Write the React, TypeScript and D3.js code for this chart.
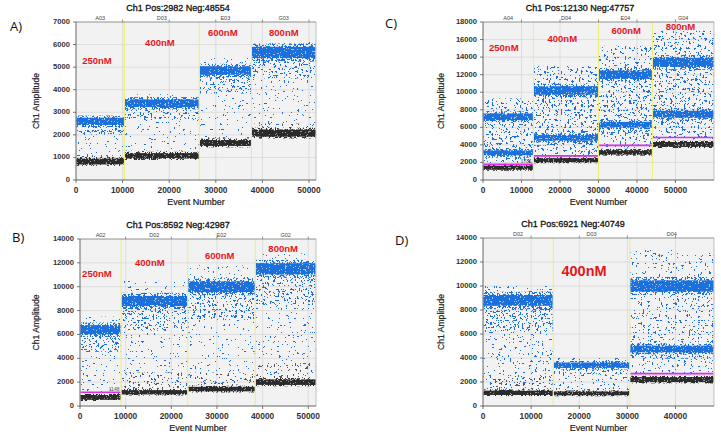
import { useEffect, useRef } from 'react';
import * as d3 from 'd3';

// ---------- Panel A (Ch1 Pos:2982 Neg:48554) ----------
const wellsA = ['A03', 'D03', 'E03', 'G03'];
const boundsA = [0, 10400, 26450, 37650, 51500];
const posA = [[[2600, 160]], [[3400, 170]], [[4850, 190]], [[5650, 250]]];
const negA = [[820, 130], [1070, 120], [1640, 130], [2080, 160]];
const rainA = [[1000, 2850], [1300, 3800], [1900, 5400], [2400, 6150]];
const grayTopA = [1100, 1300, 1900, 2500];
const thresholdA = [null, null, null, null];
const labelsA: [number, number, string][] = [
  [4500, 5230, '250nM'], [18000, 6070, '400nM'], [31500, 6470, '600nM'], [44600, 6470, '800nM'],
];

// ---------- Panel B (Ch1 Pos:8592 Neg:42987) ----------
const wellsB = ['A02', 'D02', 'E02', 'G02'];
const boundsB = [0, 9000, 23600, 38400, 51700];
const posB = [[[6400, 380]], [[8800, 430]], [[10000, 450]], [[11500, 470]]];
const negB = [[720, 200], [1150, 180], [1420, 190], [2000, 230]];
const rainB = [[1100, 7500], [1500, 10500], [1800, 11800], [2500, 12800]];
const grayTopB = [1100, 2800, 2800, 3600];
const thresholdB = [1148, null, null, null];
const labelsB: [number, number, string][] = [
  [3700, 11000, '250nM'], [15300, 11930, '400nM'], [30600, 12540, '600nM'], [44500, 13100, '800nM'],
];

// ---------- Panel C (Ch1 Pos:12130 Neg:47757) ----------
const wellsC = ['A04', 'D04', 'E04', 'G04'];
const boundsC = [0, 13100, 30000, 44000, 60000];
const posC = [
  [[3100, 280], [7200, 380]],
  [[4800, 320], [10200, 480]],
  [[6300, 320], [12000, 480]],
  [[7500, 380], [13400, 520]],
];
const negC = [[1400, 230], [2250, 230], [3150, 250], [4050, 280]];
const rainC = [[1900, 9300], [2600, 13000], [3600, 15300], [4600, 17000]];
const grayTopC = [1700, 2500, 3500, 4500];
const thresholdC = [1781, 2750, 3950, 4850];
const labelsC: [number, number, string][] = [
  [5400, 14960, '250nM'], [20600, 16060, '400nM'], [37200, 16900, '600nM'], [51300, 17350, '800nM'],
];

// ---------- Panel D (Ch1 Pos:6921 Neg:40749) ----------
const wellsD = ['D02', 'D03', 'D04'];
const boundsD = [0, 14600, 30500, 48000];
const posD = [[[8800, 450]], [[3400, 220]], [[4750, 280], [10000, 470]]];
const negD = [[1100, 180], [1050, 160], [2200, 210]];
const rainD = [[1300, 10000], [1300, 4000], [2700, 13000]];
const grayTopD = [2500, 1500, 2500];
const thresholdD = [null, null, 2700];
const labelsD: [number, number, string][] = [[21000, 11160, '400nM']];

const BLUE = '#1b70dc';
const NEG = '#2b2b2b';
const GRAY = '#555555';
const FONT = 'Liberation Sans, Arial, sans-serif';

interface PanelDef {
  key: string;
  letter: string;
  letterPos: [number, number];
  title: string;
  titleX: number;
  box: [number, number, number, number];
  xMax: number;
  yMax: number;
  yStep: number;
  ylabelX: number;
  wells: string[];
  bounds: number[];
  pos: number[][][];
  neg: number[][];
  rain: number[][];
  grayTop: number[];
  thresholds: (number | null)[];
  labels: [number, number, string][];
  labelSize: number;
  rainLevel: number;
}

const panels: PanelDef[] = [
  {
    key: 'a', letter: 'A)', letterPos: [10, 31], title: 'Ch1 Pos:2982 Neg:48554', titleX: 178,
    box: [76, 22, 316, 180], xMax: 51500, yMax: 7000, yStep: 1000, ylabelX: 37,
    wells: wellsA, bounds: boundsA, pos: posA, neg: negA, rain: rainA, grayTop: grayTopA,
    thresholds: thresholdA, labels: labelsA, labelSize: 9.5, rainLevel: 0,
  },
  {
    key: 'b', letter: 'B)', letterPos: [12, 242], title: 'Ch1 Pos:8592 Neg:42987', titleX: 178,
    box: [80, 239, 316, 406], xMax: 51700, yMax: 14000, yStep: 2000, ylabelX: 37,
    wells: wellsB, bounds: boundsB, pos: posB, neg: negB, rain: rainB, grayTop: grayTopB,
    thresholds: thresholdB, labels: labelsB, labelSize: 9.5, rainLevel: 0,
  },
  {
    key: 'c', letter: 'C)', letterPos: [385, 28], title: 'Ch1 Pos:12130 Neg:47757', titleX: 580,
    box: [483, 22, 714, 180], xMax: 60000, yMax: 18000, yStep: 2000, ylabelX: 442,
    wells: wellsC, bounds: boundsC, pos: posC, neg: negC, rain: rainC, grayTop: grayTopC,
    thresholds: thresholdC, labels: labelsC, labelSize: 9.5, rainLevel: 2,
  },
  {
    key: 'd', letter: 'D)', letterPos: [395, 245], title: 'Ch1 Pos:6921 Neg:40749', titleX: 573,
    box: [483, 238, 714, 406], xMax: 48000, yMax: 14000, yStep: 2000, ylabelX: 442,
    wells: wellsD, bounds: boundsD, pos: posD, neg: negD, rain: rainD, grayTop: grayTopD,
    thresholds: thresholdD, labels: labelsD, labelSize: 14.5, rainLevel: 1,
  },
];

// droplet texture: thresholded noise used as a mask for a filled band
const speckles = [
  { id: 'core', freq: '0.613 0.587', thr: 0.36, seed: 3 },
  { id: 'halo', freq: '0.571 0.523', thr: 0.56, seed: 7 },
  { id: 'rain0', freq: '0.437 0.419', thr: 0.72, seed: 11 },
  { id: 'rain1', freq: '0.437 0.419', thr: 0.68, seed: 13 },
  { id: 'rain2', freq: '0.437 0.419', thr: 0.64, seed: 17 },
  { id: 'near', freq: '0.471 0.453', thr: 0.64, seed: 23 },
  { id: 'grayrain', freq: '0.457 0.441', thr: 0.66, seed: 29 },
];

export default function App() {
  const svgRef = useRef<SVGSVGElement>(null);

  useEffect(() => {
    if (!svgRef.current) return;
    const svg = d3.select(svgRef.current);
    svg.selectAll('*').remove();

    const defs = svg.append('defs');
    speckles.forEach((s) => {
      const f = defs
        .append('filter')
        .attr('id', s.id)
        .attr('x', 0)
        .attr('y', 0)
        .attr('width', 1)
        .attr('height', 1)
        .attr('color-interpolation-filters', 'sRGB');
      f.append('feTurbulence')
        .attr('type', 'fractalNoise')
        .attr('baseFrequency', s.freq)
        .attr('numOctaves', 2)
        .attr('seed', s.seed)
        .attr('result', 'noise');
      f.append('feColorMatrix')
        .attr('in', 'noise')
        .attr('type', 'matrix')
        .attr('values', '0 0 0 0 0  0 0 0 0 0  0 0 0 0 0  1 0 0 0 0')
        .attr('result', 'a');
      const table = d3.range(100).map((i) => (i / 100 >= s.thr ? 1 : 0)).join(' ');
      f.append('feComponentTransfer')
        .attr('in', 'a')
        .attr('result', 'mask')
        .append('feFuncA')
        .attr('type', 'discrete')
        .attr('tableValues', table);
      f.append('feComposite').attr('in', 'SourceGraphic').attr('in2', 'mask').attr('operator', 'in');
    });

    svg.append('rect').attr('width', 721).attr('height', 440).attr('fill', '#fff');

    panels.forEach((p) => {
      const [L, T, R, B] = p.box;
      const x = d3.scaleLinear().domain([0, p.xMax]).range([L, R]);
      const y = d3.scaleLinear().domain([0, p.yMax]).range([B, T]);
      const xt = d3.range(0, p.xMax, 10000);
      const yt = d3.range(0, p.yMax + 1, p.yStep);
      const g = svg.append('g');

      // Plot background + grid
      g.append('rect').attr('x', L).attr('y', T).attr('width', R - L).attr('height', B - T).attr('fill', '#f2f2f2');
      g.selectAll('.vg')
        .data(xt.slice(1))
        .join('line')
        .attr('x1', (d) => x(d)).attr('x2', (d) => x(d))
        .attr('y1', T).attr('y2', B)
        .attr('stroke', '#d4d4d4').attr('stroke-width', 0.7);
      g.selectAll('.hg')
        .data(yt.slice(1, -1))
        .join('line')
        .attr('x1', L).attr('x2', R)
        .attr('y1', (d) => y(d)).attr('y2', (d) => y(d))
        .attr('stroke', '#d4d4d4').attr('stroke-width', 0.7);

      // Droplet clouds
      const clipId = `clip-${p.key}`;
      defs.append('clipPath').attr('id', clipId)
        .append('rect').attr('x', L).attr('y', T).attr('width', R - L).attr('height', B - T);
      const plot = g.append('g').attr('clip-path', `url(#${clipId})`);
      const rainFilter = `rain${p.rainLevel}`;

      p.wells.forEach((_w, i) => {
        const x0 = x(p.bounds[i]) + 0.6;
        const x1 = x(p.bounds[i + 1]) - 0.6;
        const band = (lo: number, hi: number, fill: string, filter: string | null, opacity = 1) => {
          if (hi <= lo) return;
          const r = plot.append('rect')
            .attr('x', x0).attr('width', x1 - x0)
            .attr('y', y(hi)).attr('height', y(lo) - y(hi))
            .attr('fill', fill)
            .attr('fill-opacity', opacity);
          if (filter) r.attr('filter', `url(#${filter})`);
        };
        const [nc, nh] = p.neg[i];
        const bands = p.pos[i];
        const [rLo, rHi] = p.rain[i];
        const lowBottom = bands[0][0] - bands[0][1];
        const topBand = bands[bands.length - 1];
        const topTop = topBand[0] + topBand[1];

        // gray rain above negatives
        band(nc + nh, p.grayTop[i], GRAY, 'grayrain');
        // blue rain below / between / above positive bands
        band(rLo, lowBottom, BLUE, rainFilter);
        band(lowBottom - (lowBottom - rLo) * 0.3, lowBottom, BLUE, 'near');
        for (let k = 1; k < bands.length; k++) {
          band(bands[k - 1][0] + bands[k - 1][1], bands[k][0] - bands[k][1], BLUE, rainFilter);
          band(bands[k - 1][0] + bands[k - 1][1], bands[k][0] - bands[k][1], BLUE, 'rain0');
        }
        band(topTop, rHi, BLUE, rainFilter);
        // positive bands
        bands.forEach(([c, h]) => {
          band(c - h * 1.6, c + h * 1.6, BLUE, 'halo');
          band(c - h * 0.8, c + h * 0.8, BLUE, null, 0.35);
          band(c - h, c + h, BLUE, 'core');
        });
        // negative band
        band(nc - nh * 1.5, nc + nh * 1.5, NEG, 'halo');
        band(nc - nh * 0.8, nc + nh * 0.8, NEG, null, 0.45);
        band(nc - nh, nc + nh, NEG, 'core');

        const t = p.thresholds[i];
        if (t !== null) {
          plot.append('line')
            .attr('x1', x0).attr('x2', x1)
            .attr('y1', y(t)).attr('y2', y(t))
            .attr('stroke', '#e12ee6').attr('stroke-width', 1.6);
          if (i === 0) {
            g.append('text')
              .attr('x', x1 - 1).attr('y', y(t) - 1.5)
              .attr('text-anchor', 'end')
              .style('font-family', FONT).style('font-size', '5px')
              .style('fill', '#555')
              .text(String(t));
          }
        }
      });

      // Well boundaries
      g.selectAll('.wb')
        .data(p.bounds.slice(1, -1))
        .join('line')
        .attr('x1', (d) => x(d)).attr('x2', (d) => x(d))
        .attr('y1', T).attr('y2', B)
        .attr('stroke', '#eded6e').attr('stroke-width', 0.9);

      // Frame + axes
      g.append('line').attr('x1', R).attr('x2', R).attr('y1', T).attr('y2', B).attr('stroke', '#b0b0b0').attr('stroke-width', 0.8);
      g.append('line').attr('x1', L).attr('x2', R).attr('y1', T).attr('y2', T).attr('stroke', '#777').attr('stroke-width', 0.8);
      g.append('line').attr('x1', L).attr('x2', L).attr('y1', T).attr('y2', B + 0.5).attr('stroke', '#555').attr('stroke-width', 0.9);
      g.append('line').attr('x1', L).attr('x2', R).attr('y1', B).attr('y2', B).attr('stroke', '#555').attr('stroke-width', 0.9);

      g.selectAll('.yt')
        .data(yt)
        .join('line')
        .attr('x1', L - 3).attr('x2', L)
        .attr('y1', (d) => y(d)).attr('y2', (d) => y(d))
        .attr('stroke', '#555').attr('stroke-width', 0.8);
      g.selectAll('.ytl')
        .data(yt)
        .join('text')
        .attr('x', L - 6).attr('y', (d) => y(d))
        .attr('text-anchor', 'end').attr('dominant-baseline', 'middle')
        .style('font-family', FONT).style('font-size', '7.6px').style('font-weight', 'bold')
        .style('fill', '#333')
        .text((d) => String(d));

      g.selectAll('.xt')
        .data(xt)
        .join('line')
        .attr('x1', (d) => x(d)).attr('x2', (d) => x(d))
        .attr('y1', B).attr('y2', B + 3)
        .attr('stroke', '#555').attr('stroke-width', 0.8);
      g.selectAll('.xtt')
        .data(xt.slice(1))
        .join('line')
        .attr('x1', (d) => x(d)).attr('x2', (d) => x(d))
        .attr('y1', T - 2.5).attr('y2', T)
        .attr('stroke', '#777').attr('stroke-width', 0.8);
      g.selectAll('.xtl')
        .data(xt)
        .join('text')
        .attr('x', (d) => x(d)).attr('y', B + 13)
        .attr('text-anchor', 'middle')
        .style('font-family', FONT).style('font-size', '8.4px').style('font-weight', 'bold')
        .style('fill', '#333')
        .text((d) => String(d));

      // Well names on top
      g.selectAll('.wn')
        .data(p.wells)
        .join('text')
        .attr('x', (_d, i) => (x(p.bounds[i]) + x(p.bounds[i + 1])) / 2)
        .attr('y', T - 2.5)
        .attr('text-anchor', 'middle')
        .style('font-family', FONT).style('font-size', '5.5px')
        .style('fill', '#444')
        .text((d) => d);

      // Concentration labels
      g.selectAll('.cl')
        .data(p.labels)
        .join('text')
        .attr('x', (d) => x(d[0])).attr('y', (d) => y(d[1]))
        .attr('text-anchor', 'middle').attr('dominant-baseline', 'middle')
        .style('font-family', FONT).style('font-size', `${p.labelSize}px`).style('font-weight', 'bold')
        .style('fill', '#e4161c')
        .text((d) => d[2]);

      // Titles
      g.append('text')
        .attr('x', p.titleX).attr('y', T - 11)
        .attr('text-anchor', 'middle')
        .style('font-family', FONT).style('font-size', '9px')
        .style('fill', '#111').style('stroke', '#111').style('stroke-width', 0.3)
        .text(p.title);
      g.append('text')
        .attr('x', (L + R) / 2).attr('y', B + 25)
        .attr('text-anchor', 'middle')
        .style('font-family', FONT).style('font-size', '9px')
        .style('fill', '#222').style('stroke', '#222').style('stroke-width', 0.2)
        .text('Event Number');
      g.append('text')
        .attr('transform', `translate(${p.ylabelX},${(T + B) / 2}) rotate(-90)`)
        .attr('text-anchor', 'middle').attr('dominant-baseline', 'middle')
        .style('font-family', FONT).style('font-size', '8.6px')
        .style('fill', '#222').style('stroke', '#222').style('stroke-width', 0.2)
        .text('Ch1 Amplitude');
      g.append('text')
        .attr('x', p.letterPos[0]).attr('y', p.letterPos[1])
        .style('font-family', 'Open Sans, Liberation Sans, sans-serif').style('font-size', '13px')
        .style('fill', '#111')
        .text(p.letter);
    });
  }, []);

  return (
    <svg
      ref={svgRef}
      width={721}
      height={440}
      style={{ position: 'absolute', left: 0, top: 0, display: 'block' }}
    />
  );
}
